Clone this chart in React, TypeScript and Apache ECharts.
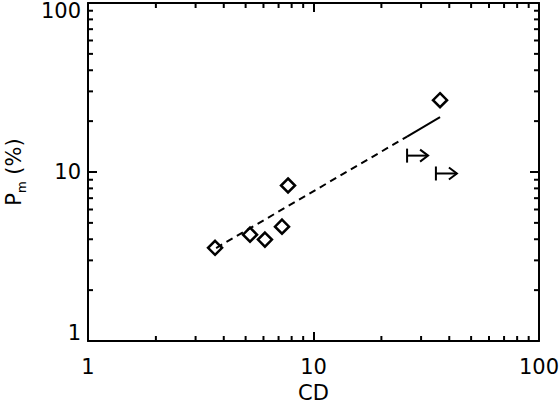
import React, { useEffect, useRef } from "react";
import * as echarts from "echarts";

// Data
const cdValues = [3.66, 5.23, 6.09, 7.25, 7.71, 36.4];
const pmValues = [3.56, 4.26, 3.98, 4.75, 8.32, 26.6];
const limitCd = [26.0, 34.9];
const limitPm = [12.5, 9.8];
const fitDashedCd = [3.7, 26.0];
const fitDashedPm = [3.55, 16.2];
const fitSolidCd = [26.0, 36.4];
const fitSolidPm = [16.2, 21.1];
const minorTicks = [2, 3, 4, 5, 6, 7, 8, 9, 20, 30, 40, 50, 60, 70, 80, 90];
const axisMin = 1;
const axisMax = 100;

const FONT = "DejaVu Sans";
const BLACK = "#000";

export default function App() {
  const ref = useRef<HTMLDivElement>(null);

  useEffect(() => {
    if (!ref.current) return;
    const chart = echarts.init(ref.current, undefined, { renderer: "svg" });

    const tickStyle = { stroke: BLACK, lineWidth: 2 };

    const option: any = {
      animation: false,
      backgroundColor: "#fff",
      grid: {
        left: 88,
        right: 20,
        top: 3,
        bottom: 63,
        outerBoundsMode: "none",
      },
      xAxis: [
        {
          type: "log",
          logBase: 10,
          min: axisMin,
          max: axisMax,
          position: "bottom",
          name: "CD",
          nameLocation: "middle",
          nameGap: 44,
          nameTextStyle: { fontFamily: FONT, fontSize: 21, color: BLACK, lineHeight: 16 },
          axisLine: { show: true, onZero: false, lineStyle: { color: BLACK, width: 2 } },
          axisTick: { show: true, inside: true, length: 9, lineStyle: { color: BLACK, width: 2 } },
          axisLabel: { fontFamily: FONT, fontSize: 21, color: BLACK, margin: 15 },
          splitLine: { show: false },
          minorTick: { show: false },
        },
        {
          type: "log",
          logBase: 10,
          min: axisMin,
          max: axisMax,
          position: "top",
          axisLine: { show: true, onZero: false, lineStyle: { color: BLACK, width: 2 } },
          axisTick: { show: true, inside: true, length: 9, lineStyle: { color: BLACK, width: 2 } },
          axisLabel: { show: false },
          splitLine: { show: false },
        },
      ],
      yAxis: [
        {
          type: "log",
          logBase: 10,
          min: axisMin,
          max: axisMax,
          position: "left",
          name: "{p|P}{s|m}{p| (%)}",
          nameLocation: "middle",
          nameRotate: 90,
          nameGap: 60,
          nameTextStyle: {
            fontFamily: FONT,
            fontSize: 21,
            color: BLACK,
            rich: {
              p: { fontFamily: FONT, fontSize: 21, color: BLACK },
              s: {
                fontFamily: FONT,
                fontSize: 12,
                color: BLACK,
                verticalAlign: "bottom",
                padding: [16, 0, 0, 0],
              },
            },
          },
          axisLine: { show: true, onZero: false, lineStyle: { color: BLACK, width: 2 } },
          axisTick: { show: true, inside: true, length: 9, lineStyle: { color: BLACK, width: 2 } },
          axisLabel: {
            fontFamily: FONT,
            fontSize: 21,
            color: BLACK,
            margin: 7,
            lineHeight: 16,
            verticalAlignMinLabel: "bottom",
            verticalAlignMaxLabel: "top",
          },
          splitLine: { show: false },
        },
        {
          type: "log",
          logBase: 10,
          min: axisMin,
          max: axisMax,
          position: "right",
          axisLine: { show: true, onZero: false, lineStyle: { color: BLACK, width: 2 } },
          axisTick: { show: true, inside: true, length: 9, lineStyle: { color: BLACK, width: 2 } },
          axisLabel: { show: false },
          splitLine: { show: false },
        },
      ],
      series: [
        // minor ticks on x (bottom & top)
        {
          type: "custom",
          xAxisIndex: 0,
          yAxisIndex: 0,
          silent: true,
          clip: false,
          data: minorTicks.map((v) => [v, 10]),
          renderItem: (params: any, api: any) => {
            const cs = params.coordSys;
            const x = api.coord([api.value(0), 10])[0];
            const yb = cs.y + cs.height;
            return {
              type: "group",
              children: [
                { type: "line", shape: { x1: x, y1: yb, x2: x, y2: yb - 5 }, style: tickStyle },
                { type: "line", shape: { x1: x, y1: cs.y, x2: x, y2: cs.y + 5 }, style: tickStyle },
              ],
            };
          },
        },
        // minor ticks on y (left & right)
        {
          type: "custom",
          xAxisIndex: 0,
          yAxisIndex: 0,
          silent: true,
          clip: false,
          data: minorTicks.map((v) => [10, v]),
          renderItem: (params: any, api: any) => {
            const cs = params.coordSys;
            const y = api.coord([10, api.value(1)])[1];
            const xr = cs.x + cs.width;
            return {
              type: "group",
              children: [
                { type: "line", shape: { x1: cs.x, y1: y, x2: cs.x + 5, y2: y }, style: tickStyle },
                { type: "line", shape: { x1: xr, y1: y, x2: xr - 5, y2: y }, style: tickStyle },
              ],
            };
          },
        },
        // fit line, dashed part
        {
          type: "line",
          data: fitDashedCd.map((x, i) => [x, fitDashedPm[i]]),
          showSymbol: false,
          symbol: "none",
          silent: true,
          lineStyle: { color: BLACK, width: 2, type: [7, 5] },
        },
        // fit line, solid part
        {
          type: "line",
          data: fitSolidCd.map((x, i) => [x, fitSolidPm[i]]),
          showSymbol: false,
          symbol: "none",
          silent: true,
          lineStyle: { color: BLACK, width: 2, type: "solid" },
        },
        // measured points
        {
          type: "scatter",
          data: cdValues.map((x, i) => [x, pmValues[i]]),
          symbol: "diamond",
          symbolSize: 14,
          itemStyle: { color: "rgba(0,0,0,0)", borderColor: BLACK, borderWidth: 2.5, opacity: 1 },
        },
        // lower limits (arrows)
        {
          type: "custom",
          silent: true,
          clip: false,
          data: limitCd.map((x, i) => [x, limitPm[i]]),
          renderItem: (_params: any, api: any) => {
            const p = api.coord([api.value(0), api.value(1)]);
            const x = p[0];
            const y = p[1];
            const style = { stroke: BLACK, lineWidth: 2, fill: "none" };
            return {
              type: "group",
              children: [
                { type: "line", shape: { x1: x, y1: y - 7, x2: x, y2: y + 7 }, style },
                { type: "line", shape: { x1: x, y1: y, x2: x + 21, y2: y }, style },
                {
                  type: "polyline",
                  shape: { points: [[x + 13, y - 6], [x + 21, y], [x + 13, y + 6]] },
                  style,
                },
              ],
            };
          },
        },
      ],
    };

    chart.setOption(option);
    return () => chart.dispose();
  }, []);

  return (
    <div
      ref={ref}
      style={{ position: "fixed", left: 0, top: 0, width: 559, height: 404, background: "#fff" }}
    />
  );
}
